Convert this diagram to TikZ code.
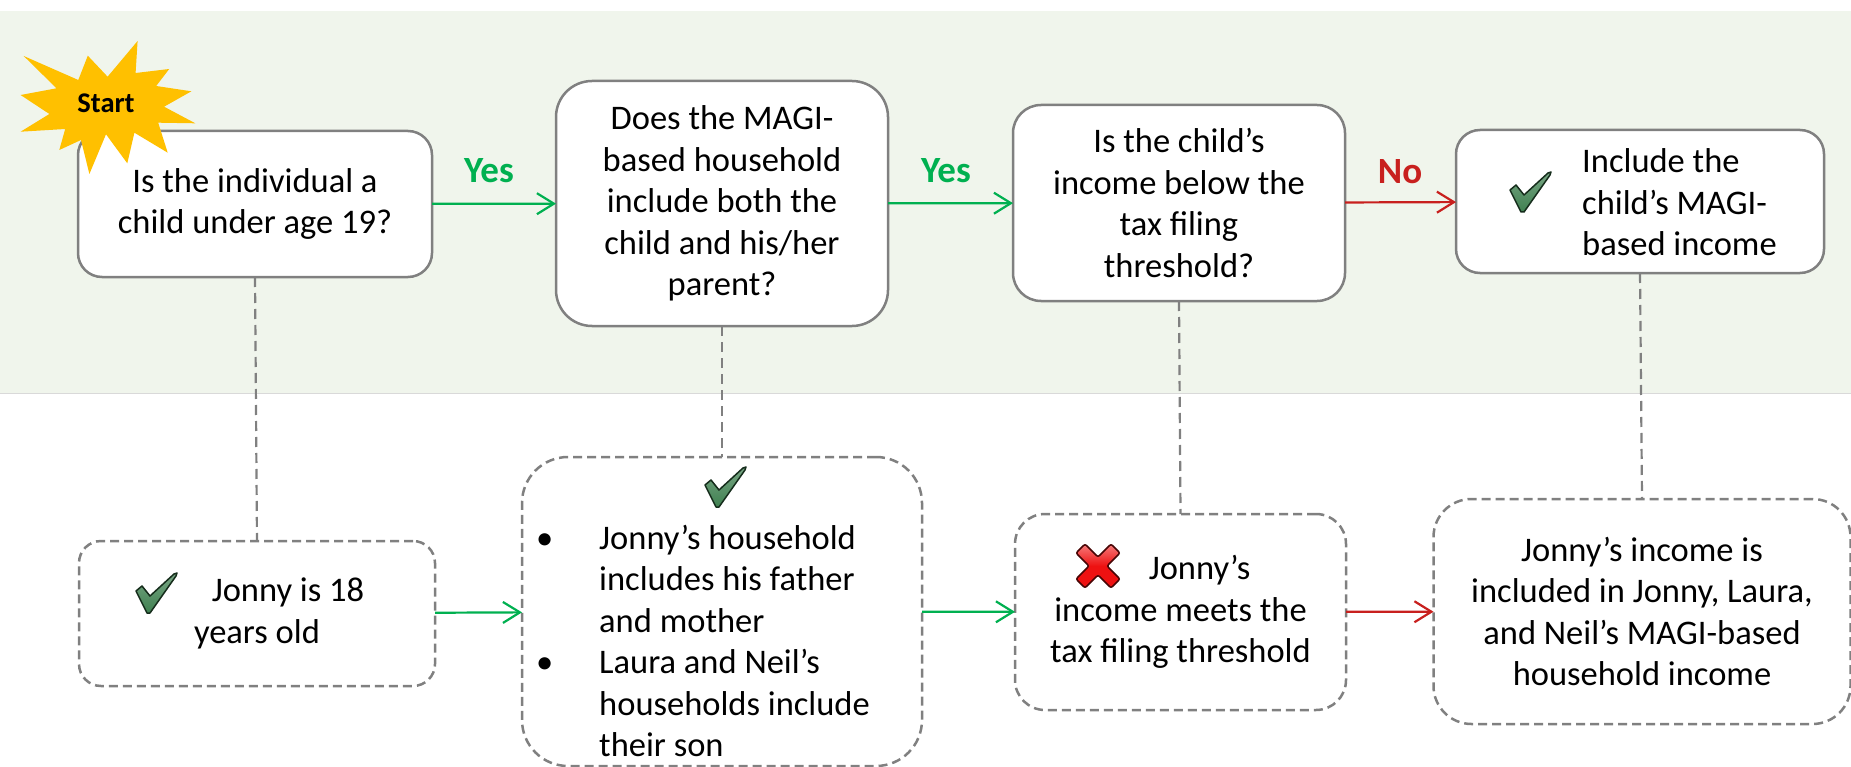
\documentclass[tikz,border=0pt]{standalone}
\usepackage{fontspec}
\setmainfont{Carlito}
\usetikzlibrary{arrows.meta,shapes}
\definecolor{bandgreen}{HTML}{F0F5EC}
\definecolor{boxgray}{HTML}{808080}
\definecolor{yesgreen}{HTML}{00B050}
\definecolor{nored}{HTML}{C8201E}
\definecolor{starorange}{HTML}{FFC000}
\definecolor{tickgreen}{HTML}{3F8050}
\definecolor{crossred}{HTML}{EE1111}
\newcommand{\bul}{\llap{\makebox[63pt][l]{\textbullet}}}
\tikzset{
  txt/.style={font=\fontsize{34.5}{41.5}\selectfont, align=center, inner sep=0pt},
  qbox/.style={txt, draw=boxgray, fill=white, line width=2.5pt, outer sep=0pt},
  abox/.style={qbox, dashed, dash pattern=on 9pt off 5pt},
  yesline/.style={draw=yesgreen, line width=2.2pt, -{Straight Barb[length=17pt,width=21pt,line width=2.2pt]}},
  noline/.style={yesline, draw=nored},
  link/.style={draw=boxgray, line width=2.2pt, dash pattern=on 10pt off 6pt},
  yeslabel/.style={font=\fontsize{37}{40}\selectfont\bfseries, text=yesgreen, inner sep=0pt},
  nolabel/.style={yeslabel, text=nored},
  tick/.pic={
    \draw[top color=tickgreen!70!white, bottom color=tickgreen, draw=black!65!tickgreen, line width=1.5pt, line join=round]
      (21,-20) -- (20,-17) -- (-6,20) -- (-9,20) -- (-20,-2) -- (-14,-7) -- (-6,3) -- (18,-19) -- cycle;
  },
  cross/.pic={
    \draw[top color=crossred!55!white, bottom color=crossred, middle color=crossred, draw=black!70!crossred, line width=1.5pt, rounded corners=2pt]
      (-22,-13) -- (-13,-22) -- (0,-9) -- (13,-22) -- (22,-13) -- (9,0) -- (22,13) -- (13,22) -- (0,9) -- (-13,22) -- (-22,13) -- (-9,0) -- cycle;
  }
}
\begin{document}
\begin{tikzpicture}[x=1pt,y=-1pt]
    \useasboundingbox (0,0) rectangle (1851,767);
    \fill[bandgreen] (0,11) rectangle (1851,393);
    \draw[black!15, line width=1pt] (0,393) -- (1851,393);

    \node[qbox, minimum width=354pt, minimum height=146pt, rounded corners=24pt] (child) at (255,204) {Is the individual a\\child under age 19?};
    \node[qbox, minimum width=332pt, minimum height=245pt, rounded corners=36pt] (parent) at (722,203.5) {Does the MAGI-\\based household\\include both the\\child and his/her\\parent?};
    \node[qbox, minimum width=332pt, minimum height=196pt, rounded corners=28pt] (income) at (1179,203) {Is the child’s\\income below the\\tax filing\\threshold?};
    \node[qbox, minimum width=368pt, minimum height=143pt, rounded corners=24pt] (incl) at (1640,201.5) {};
    \node[txt, align=left, anchor=west] (incltext) at (1582,202.5) {Include the\\child’s MAGI-\\based income};

    \node[abox, minimum width=356pt, minimum height=145pt, rounded corners=22pt] (age) at (257,613.5) {\hspace{62pt}Jonny is 18\\years old};
    \node[abox, minimum width=400pt, minimum height=309pt, rounded corners=46pt] (house) at (722,611.5) {};
    \node[txt, align=left, anchor=west] (housetext) at (599,641) {\bul Jonny’s household\\includes his father\\and mother\\\bul Laura and Neil’s\\households include\\their son};
    \node[abox, minimum width=331pt, minimum height=196pt, rounded corners=30pt] (meets) at (1180.5,612) {\hspace{38pt}Jonny’s\\income meets the\\tax filing threshold};
    \node[abox, minimum width=417pt, minimum height=225pt, rounded corners=38pt] (result) at (1642,611.5) {Jonny’s income is\\included in Jonny, Laura,\\and Neil’s MAGI-based\\household income};

    \draw[yesline] (child) -- (parent);
    \draw[yesline] (parent) -- (income);
    \draw[noline] (income) -- (incl);
    \draw[yesline] (age) -- (house);
    \draw[yesline] (house) -- (meets);
    \draw[noline] (meets) -- (result);

    \draw[link] (child.south) -- (age.north);
    \draw[link] (parent.south) -- (house.north);
    \draw[link] (income.south) -- (meets.north);
    \draw[link] (incl.south) -- (result.north);

    \node[yeslabel] (yes1) at (489,171) {Yes};
    \node[yeslabel] (yes2) at (946,171) {Yes};
    \node[nolabel] (no1) at (1400,172) {No};

    \pic (tick1) at (1530,192) {tick};
    \pic (tick2) at (156,593) {tick};
    \pic (tick3) at (725,487) {tick};
    \pic (cross1) at (1098,566) {cross};

    \fill[starorange] (137.6,41) -- (135.6,73) -- (169.2,69) -- (156.2,86) -- (191.4,91.3) -- (164.1,106.7) -- (195.3,123.3) -- (158.2,122.7) -- (167.7,152.7) -- (134.4,132.7) -- (127.3,163.3) -- (106,134.3) -- (89.4,174) -- (81,140) -- (59.3,150) -- (65.2,129) -- (20.6,131.7) -- (49.4,114) -- (20.6,95) -- (56.5,88.3) -- (23.7,56) -- (78.3,80) -- (87.8,55.7) -- (107.6,76.7) -- cycle;
    \node[font=\fontsize{28.5}{32}\selectfont\bfseries, inner sep=0pt] (start) at (106,103) {Start};
\end{tikzpicture}
\end{document}
